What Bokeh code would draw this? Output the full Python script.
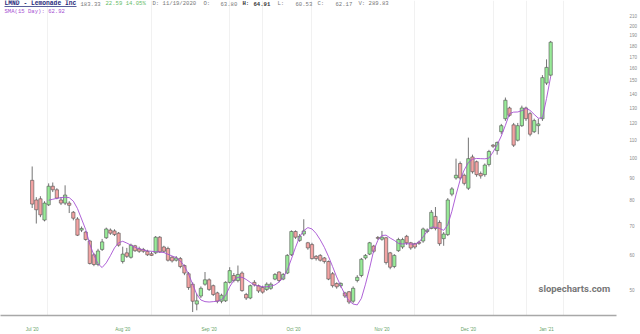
from bokeh.plotting import figure
from bokeh.models import ColumnDataSource, FixedTicker, Range1d, Label, BoxAnnotation, NumeralTickFormatter
from bokeh.embed import file_html
from bokeh.resources import INLINE

# ---- data (daily candles, LMND Jul 2020 - Jan 2021) ----
opens = [88.8, 80.1, 80.6, 72.1, 78.1, 86.1, 84.5, 80.1, 78.8, 78.8,
         75.1, 72.5, 68.4, 67.7, 64.6, 60.1, 57.1, 61.8, 65.7, 68.4,
         68.1, 67.3, 58.0, 60.7, 59.3, 63.0, 62.0, 61.8, 61.2, 60.4,
         60.7, 65.9, 62.6, 62.1, 59.3, 58.4, 58.9, 56.8, 54.4, 51.5,
         46.4, 48.4, 51.5, 52.7, 51.1, 49.2, 47.1, 47.2, 52.0, 53.9,
         52.5, 54.6, 48.8, 47.9, 52.0, 51.1, 50.6, 50.1, 50.4, 52.9,
         54.9, 52.9, 54.6, 60.1, 67.9, 64.8, 67.0, 64.0, 63.4, 59.6,
         59.9, 59.1, 58.0, 54.4, 51.7, 51.1, 49.2, 49.5, 47.1, 52.5,
         53.9, 59.1, 60.3, 62.9, 65.8, 65.2, 65.7, 60.7, 56.5, 61.4,
         62.6, 66.2, 64.0, 63.7, 64.2, 64.6, 67.9, 69.0, 73.5, 71.2,
         65.4, 66.8, 82.6, 89.9, 97.0, 91.2, 85.2, 100.4, 97.9, 92.0,
         91.5, 96.5, 106.8, 103.8, 114.6, 122.7, 129.8, 118.8, 109.6, 118.3,
         129.8, 126.0, 114.6, 118.3, 122.7, 147.9, 154.2]
highs = [95.5, 81.3, 81.7, 79.6, 87.4, 87.8, 85.2, 81.3, 86.5, 79.6,
         75.6, 73.2, 69.7, 68.0, 65.0, 60.7, 62.0, 65.3, 69.3, 69.0,
         68.7, 67.7, 62.7, 62.3, 63.7, 63.3, 62.7, 62.3, 61.7, 61.0,
         66.3, 66.3, 63.0, 62.7, 59.7, 59.7, 59.4, 57.1, 54.9, 52.0,
         49.0, 50.9, 54.9, 53.1, 51.4, 49.5, 49.0, 52.3, 56.3, 54.6,
         56.8, 55.1, 49.2, 51.4, 52.6, 51.4, 51.1, 52.0, 52.0, 54.6,
         55.1, 54.6, 60.3, 68.3, 68.3, 67.0, 72.4, 64.3, 64.0, 60.0,
         60.3, 59.4, 58.3, 54.9, 52.0, 52.0, 49.5, 49.7, 50.9, 54.0,
         59.1, 60.3, 64.3, 63.3, 66.3, 68.1, 66.0, 61.0, 60.3, 65.7,
         65.7, 66.7, 64.3, 64.0, 64.7, 69.3, 69.0, 76.0, 77.2, 72.0,
         67.7, 80.9, 85.7, 99.5, 98.0, 92.0, 111.1, 101.6, 98.5, 93.0,
         97.0, 104.2, 107.4, 108.9, 119.4, 137.1, 130.7, 120.0, 120.0, 131.4,
         130.7, 127.3, 122.7, 122.7, 154.2, 167.5, 184.5]
lows = [76.8, 70.8, 73.2, 71.6, 77.6, 83.5, 80.4, 78.0, 78.0, 74.8,
        72.0, 66.3, 67.7, 64.7, 57.1, 56.6, 56.6, 61.3, 65.3, 66.7,
        66.3, 62.7, 57.4, 59.1, 58.9, 61.0, 60.7, 60.7, 59.7, 59.7,
        60.3, 60.7, 60.7, 58.0, 57.7, 58.0, 56.0, 54.0, 50.0, 44.5,
        44.9, 47.9, 51.1, 49.7, 48.4, 46.6, 46.6, 46.9, 51.7, 52.0,
        52.0, 49.5, 47.4, 47.6, 50.9, 49.2, 49.0, 49.7, 50.0, 52.6,
        52.0, 52.6, 54.3, 59.7, 65.3, 64.3, 66.3, 61.7, 58.6, 58.3,
        58.0, 57.4, 52.6, 50.6, 50.3, 50.6, 47.9, 46.4, 46.6, 52.0,
        53.4, 58.6, 60.0, 60.7, 65.0, 64.7, 57.1, 55.7, 56.0, 61.0,
        62.0, 63.3, 61.7, 62.0, 63.3, 64.0, 67.3, 68.7, 68.3, 63.0,
        63.0, 66.3, 81.7, 89.1, 89.1, 86.5, 84.4, 92.0, 90.5, 89.6,
        90.5, 95.5, 105.3, 101.6, 113.1, 121.3, 124.0, 105.8, 108.9, 117.5,
        121.3, 111.9, 113.8, 113.1, 121.3, 146.4, 153.0]
closes = [78.4, 76.1, 74.1, 78.8, 86.1, 84.5, 80.9, 78.8, 82.2, 77.9,
          72.8, 66.6, 69.0, 65.1, 57.4, 57.1, 61.3, 64.3, 68.8, 67.3,
          66.8, 63.2, 60.3, 59.6, 63.2, 61.4, 61.2, 61.2, 60.1, 59.9,
          65.9, 61.0, 61.2, 58.4, 58.2, 59.1, 56.5, 54.6, 50.6, 47.1,
          47.2, 50.4, 52.7, 50.1, 48.8, 47.1, 48.6, 52.0, 55.3, 52.5,
          54.2, 49.8, 47.9, 51.1, 51.3, 49.7, 49.4, 51.5, 51.5, 54.2,
          52.5, 54.2, 59.9, 67.9, 65.9, 66.2, 68.1, 62.3, 58.9, 58.9,
          58.4, 58.0, 52.9, 51.1, 50.8, 51.7, 48.4, 46.9, 50.4, 53.4,
          58.7, 59.9, 64.0, 61.2, 65.5, 65.9, 57.7, 56.3, 59.9, 65.1,
          65.1, 64.0, 62.3, 62.6, 63.8, 68.8, 68.4, 75.1, 69.0, 63.7,
          67.0, 80.1, 84.9, 91.2, 89.9, 87.4, 99.5, 92.9, 91.5, 90.9,
          96.2, 103.3, 106.2, 108.3, 118.3, 135.2, 124.9, 106.8, 118.3, 129.8,
          122.7, 113.1, 121.5, 119.4, 152.2, 160.6, 183.3]

# SMA(15 Day) curve as drawn (candle index -> value)
sma_idx = [4, 5, 6, 7, 8, 9, 10, 11, 12, 13, 14, 15, 16, 17, 18, 19, 20, 21, 22, 23,
           24, 25, 26, 28, 30, 32, 34, 35, 36, 37, 38, 39, 40, 41, 42, 43, 44, 45, 46, 47,
           48, 49, 50, 51, 52, 53, 54, 55, 56, 57, 58, 59, 60, 61, 62, 63, 64, 65, 66, 67,
           68, 69, 70, 71, 72, 73, 74, 75, 76, 77, 78, 79, 80, 81, 82, 83, 84, 85, 86, 87,
           88, 89, 90, 91, 92, 93, 94, 95, 96, 97, 98, 99, 100, 101, 102, 103, 104, 105, 106, 107,
           108, 109, 110, 111, 112, 113, 114, 115, 116, 117, 118, 119, 120, 121, 122, 123, 124, 125, 126]
sma_vals = [80.0, 80.4, 80.8, 81.1, 81.3, 81.1, 79.6, 76.6, 72.5, 68.6, 63.5, 60.0, 57.3, 56.2, 57.6, 59.8, 62.3, 64.0, 64.5, 63.9,
            63.2, 62.5, 62.0, 61.3, 61.1, 60.8, 59.7, 59.2, 58.2, 56.6, 54.3, 51.5, 48.8, 47.4, 47.0, 46.9, 47.0, 47.1, 47.5, 48.5,
            50.8, 52.6, 53.4, 53.4, 52.8, 52.0, 51.3, 51.0, 50.8, 50.8, 51.0, 51.3, 52.1, 53.3, 55.5, 58.8, 62.5, 66.0, 68.2, 69.3,
            68.8, 67.2, 65.0, 62.5, 59.6, 56.5, 53.5, 51.0, 48.8, 47.2, 46.4, 46.2, 47.8, 51.5, 56.0, 61.5, 64.8, 66.5, 66.6, 65.6,
            64.8, 63.8, 63.6, 63.7, 63.6, 63.5, 64.2, 66.0, 68.0, 69.5, 69.4, 69.0, 68.3, 70.3, 75.5, 82.3, 89.0, 93.8, 97.5, 99.2,
            99.6, 99.5, 99.4, 99.8, 103.0, 107.0, 112.0, 118.5, 126.0, 127.0, 127.1, 128.0, 129.5, 128.2, 125.5, 123.0, 123.3, 136.4, 153.0]

month_pos = [0, 22, 43, 63.5, 85, 106, 125]
month_labels = ["Jul '20", "Aug '20", "Sep '20", "Oct '20", "Nov '20", "Dec '20", "Jan '21"]
price_ticks = [50, 60, 70, 80, 90, 100, 110, 120, 130, 140, 150, 160, 170, 180, 190, 200, 210]
grid_idx = [3.8, 29, 48, 56, 68, 93, 112.2, 120.1, 129]

UP = "#98eb98"
DOWN = "#f3a3a3"
EDGE = "#505050"

n = len(closes)
src = ColumnDataSource(dict(
    x=list(range(n)), h=highs, l=lows,
    top=[max(o, c) for o, c in zip(opens, closes)],
    bottom=[min(o, c) for o, c in zip(opens, closes)],
    fill=[UP if c >= o else DOWN for o, c in zip(opens, closes)],
))

FRAME_H = 318

p = figure(width=640, height=334, x_range=Range1d(-7.7, 142.0), y_range=Range1d(43.7, 228.1),
           y_axis_type="log", y_axis_location="right", output_backend="svg", toolbar_location=None,
           min_border_left=0, min_border_right=16, min_border_top=0, min_border_bottom=16)
p.outline_line_color = None
p.background_fill_color = "white"
p.border_fill_color = "white"
p.ygrid.visible = False
p.xgrid.ticker = FixedTicker(ticks=grid_idx)
p.xgrid.grid_line_color = "#f1f1f1"
p.xgrid.grid_line_width = 1

# right price axis
p.yaxis.ticker = FixedTicker(ticks=price_ticks)
p.yaxis.formatter = NumeralTickFormatter(format="0")
p.yaxis.axis_line_color = None
p.yaxis.major_tick_line_color = None
p.yaxis.minor_tick_line_color = None
p.yaxis.major_label_text_font_size = "4.5px"
p.yaxis.major_label_text_color = "#8a8a8a"
p.yaxis.major_label_standoff = 7

# bottom date axis
p.xaxis.ticker = FixedTicker(ticks=month_pos)
p.xaxis.major_label_overrides = {pos: lab for pos, lab in zip(month_pos, month_labels)}
p.xaxis.axis_line_color = "#a8a8a8"
p.xaxis.axis_line_width = 1.5
p.xaxis.major_tick_line_color = None
p.xaxis.minor_tick_line_color = None
p.xaxis.major_label_text_font_size = "4.5px"
p.xaxis.major_label_text_color = "#5f9f5f"
p.xaxis.major_label_standoff = 5

# candles
p.segment(x0="x", y0="l", x1="x", y1="h", line_color=EDGE, line_width=0.8, source=src)
p.vbar(x="x", width=0.8, top="top", bottom="bottom", fill_color="fill",
       line_color=EDGE, line_width=0.6, source=src)

# SMA
p.line(sma_idx, sma_vals, line_color="#a650d2", line_width=0.9)

# header texts
MONO = "Liberation Mono"
FS = "5.6px"
def lab(x, y, text, color, bold=False, font=MONO, size=FS):
    p.add_layout(Label(x=x, y=FRAME_H - y, x_units="screen", y_units="screen", text=text,
                       text_font=font, text_font_size=size, text_color=color,
                       text_font_style="bold" if bold else "normal", text_baseline="middle"))

lab(4, 6, "LMND - Lemonade Inc", "#1f2a7a", bold=True, size="6.3px")
p.add_layout(BoxAnnotation(left=4, right=76, top=FRAME_H - 8.7, bottom=FRAME_H - 9.4,
                           left_units="screen", right_units="screen", top_units="screen",
                           bottom_units="screen", fill_color="#1f2a7a", fill_alpha=1,
                           line_color=None))
lab(80, 6, "183.33", "#777777")
lab(105, 6, "22.59 14.05%", "#66bb66")
lab(152, 6, "D: 11/19/2020", "#777777")
lab(203, 6, "O:", "#777777")
lab(220, 6, "63.80", "#777777")
lab(242, 6, "H:", "#333333", bold=True)
lab(253, 6, "64.91", "#333333", bold=True)
lab(277, 6, "L:", "#777777")
lab(295, 6, "60.53", "#777777")
lab(317, 6, "C:", "#777777")
lab(335, 6, "62.17", "#777777")
lab(358, 6, "V: 289.83", "#777777")
lab(4, 14.3, "SMA(15 Day): 62.92", "#a650d2")

# watermark
lab(538, 291, "slopecharts.com", "#777777", bold=True, font="Roboto", size="9.5px")

open("out.html", "w").write(file_html(p, INLINE))
